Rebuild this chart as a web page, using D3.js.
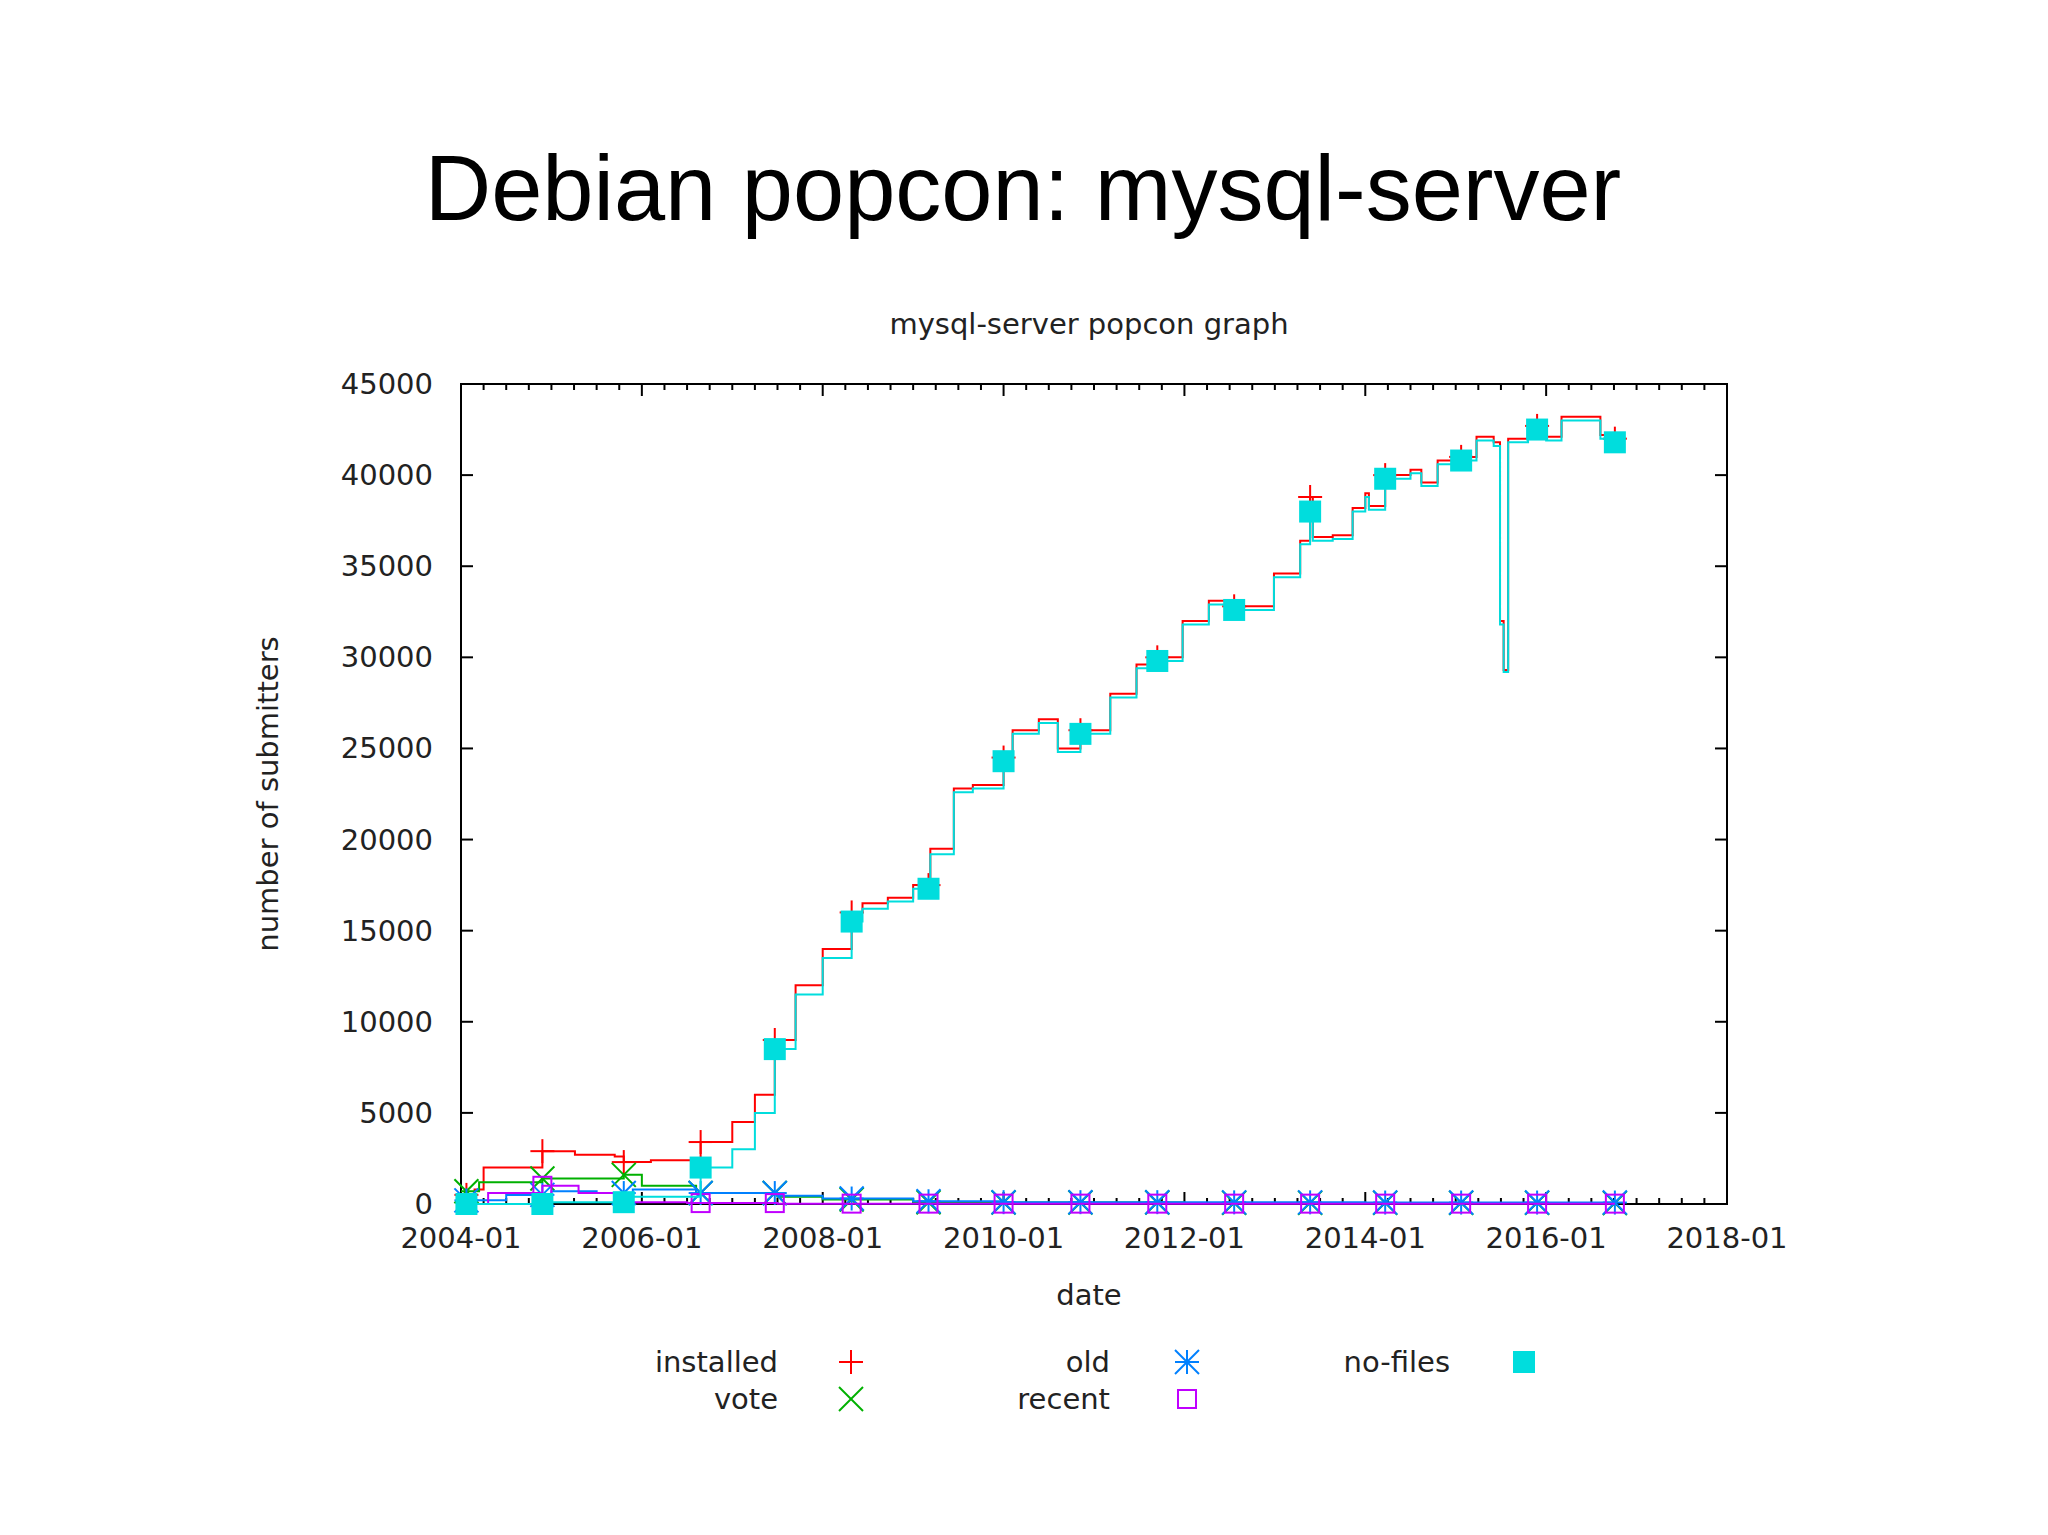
<!DOCTYPE html>
<html><head><meta charset="utf-8">
<script src="https://cdn.jsdelivr.net/npm/d3@7"></script>
<style>body{margin:0;background:#fff}</style></head>
<body><svg id="c" width="2048" height="1535"></svg>
<script>
const xTickLabels=["2004-01","2006-01","2008-01","2010-01","2012-01","2014-01","2016-01","2018-01"];
const yTicks=[0,5000,10000,15000,20000,25000,30000,35000,40000,45000];
// decimal years
const installedT=[2004.0,2004.15,2004.25,2004.9,2005.26,2005.7,2005.8,2006.1,2006.65,2007.0,2007.25,2007.47,2007.7,2008.0,2008.32,2008.44,2008.72,2009.0,2009.19,2009.45,2009.66,2010.0,2010.1,2010.39,2010.6,2010.85,2011.18,2011.47,2011.7,2011.98,2012.27,2012.55,2012.99,2013.28,2013.39,2013.42,2013.64,2013.86,2014.0,2014.04,2014.22,2014.5,2014.62,2014.8,2015.06,2015.23,2015.42,2015.49,2015.53,2015.58,2015.8,2015.95,2016.0,2016.17,2016.46,2016.6,2016.76];
const installedV=[500,800,2000,2900,2700,2600,2300,2400,3400,4500,6000,9000,12000,14000,16000,16500,16800,17500,19500,22800,23000,24500,26000,26600,25000,26000,28000,29600,30000,32000,33100,32800,34600,36400,38800,36600,36700,38200,39000,38300,40000,40300,39600,40800,41000,42100,41800,32000,29300,42000,42700,43000,42100,43200,43200,42200,42000];
const nofilesT=[2004.0,2005.0,2005.9,2006.65,2007.0,2007.25,2007.47,2007.7,2008.0,2008.32,2008.44,2008.72,2009.0,2009.19,2009.45,2009.66,2010.0,2010.1,2010.39,2010.6,2010.85,2011.18,2011.47,2011.7,2011.98,2012.27,2012.55,2012.99,2013.28,2013.39,2013.42,2013.64,2013.86,2014.0,2014.04,2014.22,2014.5,2014.62,2014.8,2015.06,2015.23,2015.42,2015.49,2015.53,2015.58,2015.8,2015.95,2016.0,2016.17,2016.46,2016.6,2016.76];
const nofilesV=[0,100,400,2000,3000,5000,8500,11500,13500,15500,16200,16600,17300,19200,22600,22800,24300,25800,26400,24800,25800,27800,29400,29800,31800,32900,32600,34400,36200,38000,36400,36500,38000,38800,38100,39800,40100,39400,40600,40800,41900,41600,31800,29200,41800,42500,42900,41900,43000,43000,42000,41800];
const voteT=[2004.0,2004.2,2004.9,2005.5,2005.8,2006.0,2006.6,2007.5,2008.0,2009.0,2010.0,2012.0,2014.0,2016.76];
const voteV=[700,1200,1400,1400,1600,1000,600,400,250,100,80,60,60,50];
const oldT=[2004.0,2004.5,2005.0,2005.5,2005.9,2006.6,2007.5,2008.0,2009.0,2010.0,2012.0,2014.0,2016.76];
const oldV=[200,500,700,600,800,600,450,300,150,100,90,80,80];
const recentT=[2004.0,2004.3,2004.9,2005.3,2005.8,2006.5,2007.5,2010.0,2016.76];
const recentV=[0,600,1000,600,100,50,20,20,20];
const markerT=[2004.06,2004.9,2005.8,2006.65,2007.47,2008.32,2009.17,2010.0,2010.85,2011.7,2012.55,2013.39,2014.22,2015.06,2015.9,2016.76];

const svg=d3.select("#c");
const L=461,R=1727,T=384,B=1204;
const x=d3.scaleLinear().domain([2004,2018]).range([L,R]);
const y=d3.scaleLinear().domain([0,45000]).range([B,T]);
const F="DejaVu Sans, sans-serif";

svg.append("text").attr("x",1023).attr("y",220).attr("text-anchor","middle").attr("font-family","Liberation Sans, Arial").attr("font-size",92).text("Debian popcon: mysql-server");
svg.append("text").attr("x",1089).attr("y",334).attr("text-anchor","middle").attr("font-family",F).attr("font-size",29).attr("fill","#222").text("mysql-server popcon graph");

// axes
const g=svg.append("g");
const minor=d3.range(2004,2018.01,0.25);
minor.forEach(t=>{const big=Math.abs(t-Math.round(t/2)*2)<1e-6;const len=big?12:6;
 g.append("line").attr("x1",x(t)).attr("x2",x(t)).attr("y1",B).attr("y2",B-len).attr("stroke","#000").attr("stroke-width",2);
 g.append("line").attr("x1",x(t)).attr("x2",x(t)).attr("y1",T).attr("y2",T+len).attr("stroke","#000").attr("stroke-width",2);});
xTickLabels.forEach((s,i)=>g.append("text").attr("x",x(2004+2*i)).attr("y",B+44).attr("text-anchor","middle").attr("font-family",F).attr("font-size",29).attr("fill","#222").text(s));
yTicks.forEach(v=>{
 g.append("line").attr("x1",L).attr("x2",L+12).attr("y1",y(v)).attr("y2",y(v)).attr("stroke","#000").attr("stroke-width",2);
 g.append("line").attr("x1",R).attr("x2",R-12).attr("y1",y(v)).attr("y2",y(v)).attr("stroke","#000").attr("stroke-width",2);
 g.append("text").attr("x",L-28).attr("y",y(v)+10).attr("text-anchor","end").attr("font-family",F).attr("font-size",29).attr("fill","#222").text(v);});
g.append("rect").attr("x",L).attr("y",T).attr("width",R-L).attr("height",B-T).attr("fill","none").attr("stroke","#000").attr("stroke-width",2);
svg.append("text").attr("x",1089).attr("y",1305).attr("text-anchor","middle").attr("font-family",F).attr("font-size",29).attr("fill","#222").text("date");
svg.append("text").attr("transform","translate(278,794) rotate(-90)").attr("text-anchor","middle").attr("font-family",F).attr("font-size",29).attr("fill","#222").text("number of submitters");

const series=[
 {name:"installed",t:installedT,v:installedV,c:"#ff0000",m:"plus"},
 {name:"vote",t:voteT,v:voteV,c:"#00b000",m:"cross"},
 {name:"old",t:oldT,v:oldV,c:"#0080ff",m:"star"},
 {name:"recent",t:recentT,v:recentV,c:"#c000ff",m:"box"},
 {name:"no-files",t:nofilesT,v:nofilesV,c:"#00dddd",m:"fbox"}];
const line=d3.line().x(d=>x(d[0])).y(d=>y(d[1])).curve(d3.curveStepAfter);
function marker(sel,type,cx,cy,c){
 const s=12;const gg=sel.append("g").attr("stroke",c).attr("stroke-width",2).attr("fill","none");
 if(type==="plus"||type==="star"){gg.append("line").attr("x1",cx-s).attr("x2",cx+s).attr("y1",cy).attr("y2",cy);gg.append("line").attr("x1",cx).attr("x2",cx).attr("y1",cy-s).attr("y2",cy+s);}
 if(type==="cross"||type==="star"){gg.append("line").attr("x1",cx-s).attr("x2",cx+s).attr("y1",cy-s).attr("y2",cy+s);gg.append("line").attr("x1",cx-s).attr("x2",cx+s).attr("y1",cy+s).attr("y2",cy-s);}
 if(type==="box")gg.append("rect").attr("x",cx-9).attr("y",cy-9).attr("width",18).attr("height",18);
 if(type==="fbox")gg.append("rect").attr("x",cx-11).attr("y",cy-11).attr("width",22).attr("height",22).attr("fill",c).attr("stroke","none");
}
function valAt(s,t){const i=d3.bisectRight(s.t,t)-1;return s.v[Math.max(0,Math.min(i,s.v.length-1))];}
const plot=svg.append("g");
series.forEach(s=>{
 const data=s.t.map((t,i)=>[t,s.v[i]]);
 plot.append("path").attr("d",line(data)).attr("fill","none").attr("stroke",s.c).attr("stroke-width",2);
 markerT.forEach(t=>marker(plot,s.m,x(t),y(valAt(s,t)),s.c));
});
// legend
const leg=[[0,"installed",778,851,1362],[1,"vote",778,851,1399],[2,"old",1110,1187,1362],[3,"recent",1110,1187,1399],[4,"no-files",1450,1524,1362]];
leg.forEach(([i,n,tx,mx,ly])=>{
 svg.append("text").attr("x",tx).attr("y",ly+10).attr("text-anchor","end").attr("font-family",F).attr("font-size",29).attr("fill","#222").text(n);
 marker(svg,series[i].m,mx,ly,series[i].c);});
</script></body></html>
